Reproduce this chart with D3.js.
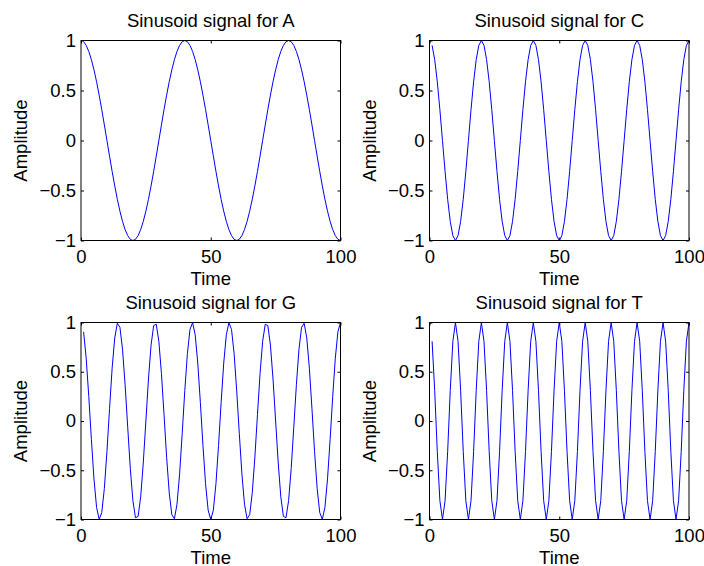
<!DOCTYPE html>
<html lang="en">
  <head>
    <meta charset="UTF-8" />
    <title>Sinusoid signals</title>
    <script src="https://cdn.jsdelivr.net/npm/d3@7"></script>
    <style>
      body { margin: 0; background: #fff; }
      svg { display: block; font-family: "Liberation Sans", Arial, Helvetica, sans-serif; }
      .axis text { font-size: 18.5px; fill: #000; }
      .axis line { stroke: #000; }
      .label { font-size: 18.5px; fill: #000; }
    </style>
  </head>
  <body>
    <svg width="704" height="566"></svg>

    <script>
      // sample index (Time), 1..100
      var time = d3.range(1, 101);

      var titles = ["Sinusoid signal for A", "Sinusoid signal for C",
                    "Sinusoid signal for G", "Sinusoid signal for T"];
      var xTicks = [0, 50, 100];
      var yTicks = [-1, -0.5, 0, 0.5, 1];

      var ampA = [
        0.988, 0.951, 0.891, 0.809, 0.707, 0.588, 0.454, 0.309, 0.156, 0,
        -0.156, -0.309, -0.454, -0.588, -0.707, -0.809, -0.891, -0.951, -0.988, -1,
        -0.988, -0.951, -0.891, -0.809, -0.707, -0.588, -0.454, -0.309, -0.156, 0,
        0.156, 0.309, 0.454, 0.588, 0.707, 0.809, 0.891, 0.951, 0.988, 1,
        0.988, 0.951, 0.891, 0.809, 0.707, 0.588, 0.454, 0.309, 0.156, 0,
        -0.156, -0.309, -0.454, -0.588, -0.707, -0.809, -0.891, -0.951, -0.988, -1,
        -0.988, -0.951, -0.891, -0.809, -0.707, -0.588, -0.454, -0.309, -0.156, 0,
        0.156, 0.309, 0.454, 0.588, 0.707, 0.809, 0.891, 0.951, 0.988, 1,
        0.988, 0.951, 0.891, 0.809, 0.707, 0.588, 0.454, 0.309, 0.156, 0,
        -0.156, -0.309, -0.454, -0.588, -0.707, -0.809, -0.891, -0.951, -0.988, -1
      ];

      var ampC = [
        0.951, 0.809, 0.588, 0.309, 0, -0.309, -0.588, -0.809, -0.951, -1,
        -0.951, -0.809, -0.588, -0.309, 0, 0.309, 0.588, 0.809, 0.951, 1,
        0.951, 0.809, 0.588, 0.309, 0, -0.309, -0.588, -0.809, -0.951, -1,
        -0.951, -0.809, -0.588, -0.309, 0, 0.309, 0.588, 0.809, 0.951, 1,
        0.951, 0.809, 0.588, 0.309, 0, -0.309, -0.588, -0.809, -0.951, -1,
        -0.951, -0.809, -0.588, -0.309, 0, 0.309, 0.588, 0.809, 0.951, 1,
        0.951, 0.809, 0.588, 0.309, 0, -0.309, -0.588, -0.809, -0.951, -1,
        -0.951, -0.809, -0.588, -0.309, 0, 0.309, 0.588, 0.809, 0.951, 1,
        0.951, 0.809, 0.588, 0.309, 0, -0.309, -0.588, -0.809, -0.951, -1,
        -0.951, -0.809, -0.588, -0.309, 0, 0.309, 0.588, 0.809, 0.951, 1
      ];

      var ampG = [
        0.905, 0.637, 0.249, -0.187, -0.588, -0.876, -0.998, -0.930, -0.685, -0.309,
        0.125, 0.536, 0.844, 0.992, 0.951, 0.729, 0.368, -0.063, -0.482, -0.809,
        -0.982, -0.969, -0.771, -0.426, 0, 0.426, 0.771, 0.969, 0.982, 0.809,
        0.482, 0.063, -0.368, -0.729, -0.951, -0.992, -0.844, -0.536, -0.125, 0.309,
        0.685, 0.930, 0.998, 0.876, 0.588, 0.187, -0.249, -0.637, -0.905, -1,
        -0.905, -0.637, -0.249, 0.187, 0.588, 0.876, 0.998, 0.930, 0.685, 0.309,
        -0.125, -0.536, -0.844, -0.992, -0.951, -0.729, -0.368, 0.063, 0.482, 0.809,
        0.982, 0.969, 0.771, 0.426, 0, -0.426, -0.771, -0.969, -0.982, -0.809,
        -0.482, -0.063, 0.368, 0.729, 0.951, 0.992, 0.844, 0.536, 0.125, -0.309,
        -0.685, -0.930, -0.998, -0.876, -0.588, -0.187, 0.249, 0.637, 0.905, 1
      ];

      var ampT = [
        0.809, 0.309, -0.309, -0.809, -1, -0.809, -0.309, 0.309, 0.809, 1,
        0.809, 0.309, -0.309, -0.809, -1, -0.809, -0.309, 0.309, 0.809, 1,
        0.809, 0.309, -0.309, -0.809, -1, -0.809, -0.309, 0.309, 0.809, 1,
        0.809, 0.309, -0.309, -0.809, -1, -0.809, -0.309, 0.309, 0.809, 1,
        0.809, 0.309, -0.309, -0.809, -1, -0.809, -0.309, 0.309, 0.809, 1,
        0.809, 0.309, -0.309, -0.809, -1, -0.809, -0.309, 0.309, 0.809, 1,
        0.809, 0.309, -0.309, -0.809, -1, -0.809, -0.309, 0.309, 0.809, 1,
        0.809, 0.309, -0.309, -0.809, -1, -0.809, -0.309, 0.309, 0.809, 1,
        0.809, 0.309, -0.309, -0.809, -1, -0.809, -0.309, 0.309, 0.809, 1,
        0.809, 0.309, -0.309, -0.809, -1, -0.809, -0.309, 0.309, 0.809, 1
      ];

      var series = [ampA, ampC, ampG, ampT];

      var svg = d3.select("svg");
      svg.append("rect").attr("width", 704).attr("height", 566).attr("fill", "#fff");

      // subplot boxes (left, top) for a 2x2 grid
      var colX = [81, 429.5],
        rowY = [40.5, 322.5],
        width = 259.5,
        heights = [200, 197];

      var fmt = function (d) {
        return d3.format("")(d).replace("-", "\u2212");
      };

      series.forEach(function (vals, i) {
        var col = i % 2,
          row = Math.floor(i / 2),
          height = heights[row];

        var x = d3.scaleLinear().domain([0, 100]).range([0, width]),
          y = d3.scaleLinear().domain([-1, 1]).range([height, 0]);

        var g = svg
          .append("g")
          .attr("transform", "translate(" + colX[col] + "," + rowY[row] + ")");

        // ticks, pointing inward on all four sides
        g.append("g")
          .attr("class", "axis")
          .attr("transform", "translate(0," + height + ")")
          .call(d3.axisBottom(x).tickValues(xTicks).tickSizeInner(-3).tickSizeOuter(0).tickPadding(9.5).tickFormat(fmt))
          .call(function (a) { a.select(".domain").remove(); });
        g.append("g")
          .attr("class", "axis")
          .call(d3.axisTop(x).tickValues(xTicks).tickSizeInner(-3).tickSizeOuter(0).tickFormat(""))
          .call(function (a) { a.select(".domain").remove(); });
        g.append("g")
          .attr("class", "axis")
          .call(d3.axisLeft(y).tickValues(yTicks).tickSizeInner(-3).tickSizeOuter(0).tickPadding(5).tickFormat(fmt))
          .call(function (a) { a.select(".domain").remove(); });
        g.append("g")
          .attr("class", "axis")
          .attr("transform", "translate(" + width + ",0)")
          .call(d3.axisRight(y).tickValues(yTicks).tickSizeInner(-3).tickSizeOuter(0).tickFormat(""))
          .call(function (a) { a.select(".domain").remove(); });

        g.selectAll(".axis text").attr("font-family", null).attr("font-size", null);

        var line = d3
          .line()
          .x(function (d, k) { return x(time[k]); })
          .y(function (d) { return y(d); });

        g.append("path")
          .datum(vals)
          .attr("fill", "none")
          .attr("stroke", "#0000ff")
          .attr("stroke-width", 1)
          .attr("d", line);

        g.append("rect")
          .attr("width", width)
          .attr("height", height)
          .attr("fill", "none")
          .attr("stroke", "#000")
          .attr("stroke-width", 1);

        g.append("text")
          .attr("class", "label")
          .attr("x", width / 2)
          .attr("y", -13.5)
          .attr("text-anchor", "middle")
          .text(titles[i]);

        g.append("text")
          .attr("class", "label")
          .attr("x", width / 2)
          .attr("y", height + 44)
          .attr("text-anchor", "middle")
          .text("Time");

        g.append("text")
          .attr("class", "label")
          .attr("transform", "translate(-54," + height / 2 + ") rotate(-90)")
          .attr("text-anchor", "middle")
          .text("Amplitude");
      });
    </script>
  </body>
</html>
